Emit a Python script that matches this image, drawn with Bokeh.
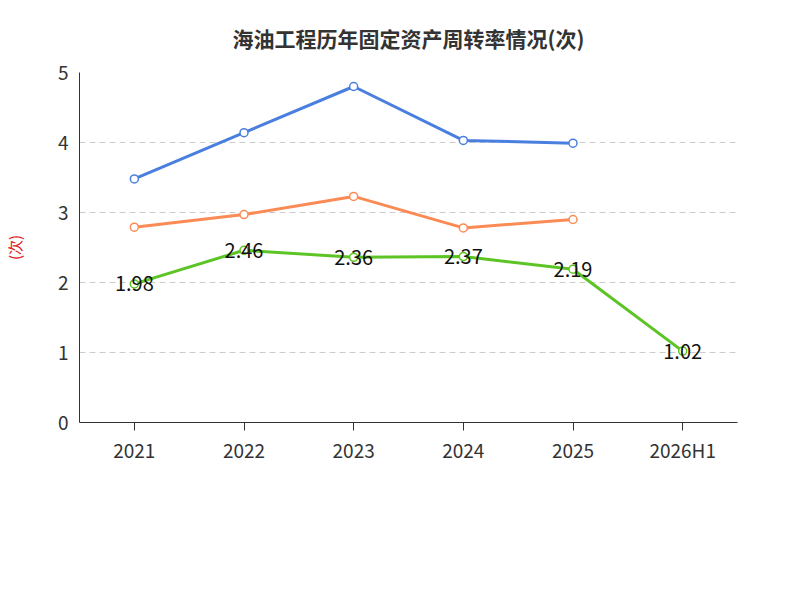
from bokeh.plotting import figure
from bokeh.models import ColumnDataSource, Legend, LegendItem, Title, Range1d, FixedTicker
from bokeh.embed import file_html
from bokeh.resources import INLINE
from bokeh.core.properties import value

years = ["2021", "2022", "2023", "2024", "2025", "2026H1"]
company = [1.98, 2.46, 2.36, 2.37, 2.19, 1.02]
ind_avg = [3.48, 4.14, 4.80, 4.03, 3.99]
ind_med = [2.79, 2.97, 3.23, 2.78, 2.90]
company_labels = ["1.98", "2.46", "2.36", "2.37", "2.19", "1.02"]

FONT = "Noto Sans CJK SC"
p = figure(x_range=years, frame_width=658, frame_height=350, output_backend="svg", toolbar_location=None,
           min_border_left=30, min_border_right=16, min_border_top=5, min_border_bottom=5)
p.y_range = Range1d(0, 5)
p.title = Title(text="海油工程历年固定资产周转率情况(次)", align="center", text_font=FONT,
                text_font_size="21px", text_font_style="bold", text_color="#333333", standoff=40)
p.outline_line_color = None
p.xgrid.grid_line_color = None
p.ygrid.grid_line_color = "#cccccc"
p.ygrid.grid_line_dash = "6 4"
p.yaxis.ticker = FixedTicker(ticks=[0, 1, 2, 3, 4, 5])
p.yaxis.axis_label = "(次)"
p.yaxis.axis_label_text_color = "#e02020"
p.yaxis.axis_label_text_font = FONT
p.yaxis.axis_label_text_font_style = "normal"
p.yaxis.axis_label_text_font_size = "15px"
p.yaxis.axis_label_standoff = 30
for ax in (p.xaxis[0], p.yaxis[0]):
    ax.major_label_text_font = FONT
    ax.major_label_text_font_size = "19px"
    ax.major_label_text_color = "#333333"
    ax.axis_line_color = "#333333"
    ax.major_tick_line_color = "#333333"
    ax.minor_tick_line_color = None
p.yaxis.major_tick_line_color = None
p.xaxis.major_tick_out = 8
p.xaxis.major_tick_in = 0

src = ColumnDataSource(dict(x=years, y=company, t=company_labels))
r1 = p.line("x", "y", source=src, line_color="#5cc424", line_width=3)
c1 = p.scatter("x", "y", source=src, size=8, fill_color="white", line_color="#5cc424", line_width=1.5)
r2 = p.line(years[:5], ind_avg, line_color="#4a7fe0", line_width=3)
c2 = p.scatter(years[:5], ind_avg, size=8, fill_color="white", line_color="#4a7fe0", line_width=1.5)
r3 = p.line(years[:5], ind_med, line_color="#fb8b55", line_width=3)
c3 = p.scatter(years[:5], ind_med, size=8, fill_color="white", line_color="#fb8b55", line_width=1.5)
p.text("x", "y", text="t", source=src, text_align="center", text_baseline="middle",
       text_font=value(FONT), text_font_size="20px", text_color="#111111")

legend = Legend(items=[LegendItem(label="公司固定资产周转率", renderers=[r1, c1]),
                       LegendItem(label="行业均值", renderers=[r2, c2]),
                       LegendItem(label="行业中位数", renderers=[r3, c3])],
                orientation="horizontal", label_text_font=FONT,
                label_text_font_size="19px", label_text_color="#333333", border_line_color=None,
                glyph_width=50, spacing=25, margin=20)
p.add_layout(legend, "below")
p.add_layout(Title(text="制图数据来自恒生聚源数据库", align="center", text_font=FONT,
                   text_font_size="15px", text_font_style="normal", text_color="#c8962a"), "below")
open("out.html", "w").write(file_html(p, INLINE))
